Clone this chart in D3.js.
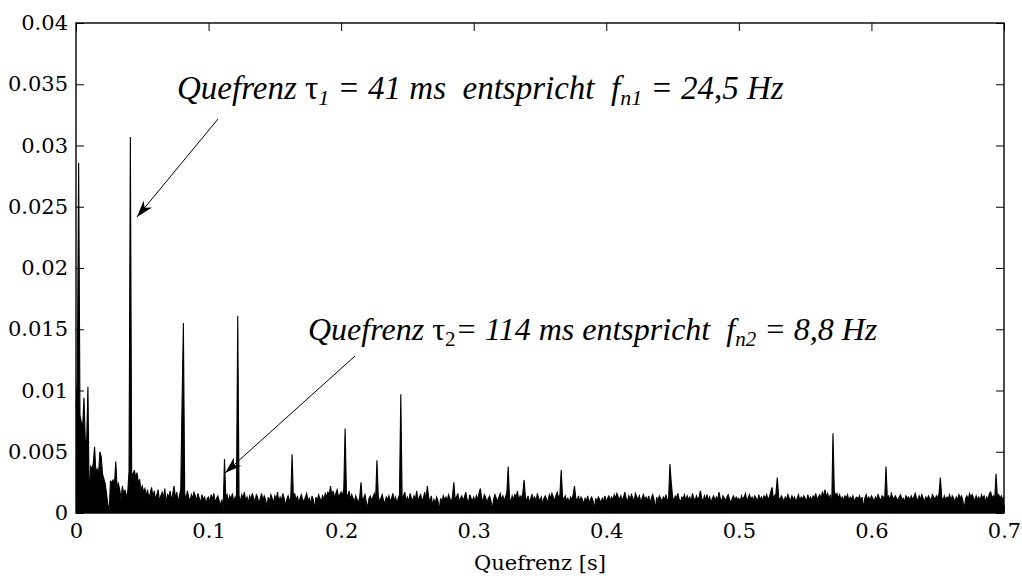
<!DOCTYPE html>
<meta charset="utf-8">
<title>Cepstrum - Quefrenz</title>
<style>
body { margin: 0; background: #fff; }
svg { display: block; }
.axis text, .label { font-family: "DejaVu Serif", serif; font-size: 21px; fill: #000; }
.axis line { stroke: #000; stroke-width: 1px; }
.note { font-family: "Liberation Serif", "Times New Roman", serif; font-style: italic; fill: #000; white-space: pre; }
</style>
<body>
<script src="https://d3js.org/d3.v7.min.js"></script>
<script>

var width = 1022,
    height = 576;

var margin = {left: 76, right: 18, top: 23, bottom: 63};

// one value per millisecond of quefrency, amplitude in units of 1e-4
var step = 0.001;

var ceps000 = [86,110,286,80,74,70,94,60,56,103,
  8,38,36,40,54,33,36,31,50,46, 32,28,24,16,7,2,26,25,27,23,
  42,21,24,19,11,22,15,19,13,17, 34,307,33,31,35,29,33,25,27,19,
  22,17,20,14,19,12,16,21,13,18, 11,15,19,9,14,17,12,20,8,15,
  13,18,10,16,22,12,17,9,14,19, 90,155,16,11,18,13,9,15,12,17,
  14,10,16,12,8,15,11,13,7,12];

var ceps100 = [13,9,15,11,16,8,12,14,10,6, 11,3,44,12,15,9,14,11,16,8,
  13,10,161,14,9,15,12,17,10,13, 8,14,11,16,12,9,15,13,7,12,
  16,10,14,11,5,13,9,15,12,8, 14,11,17,9,13,10,16,12,6,11,
  14,9,13,48,12,16,10,14,8,12, 15,11,9,13,16,10,12,7,14,11,
  3,13,10,15,12,9,14,11,16,13, 17,15,22,14,18,12,16,19,13,15];

var ceps200 = [17,14,20,69,16,13,18,11,15,12, 9,14,11,8,13,25,10,12,15,9,
  4,12,14,10,13,16,11,43,14,9, 12,15,10,8,13,11,14,9,12,16,
  10,13,8,12,15,97,11,14,17,10, 13,9,16,12,10,14,11,18,9,13,
  15,10,12,17,11,22,13,9,14,6, 11,8,13,10,2,12,9,14,11,13,
  10,15,12,8,14,25,11,13,16,9, 12,14,10,13,17,11,8,15,12,10];

var ceps300 = [13,9,14,11,16,20,12,10,15,13, 8,12,14,10,3,11,15,12,9,13,
  16,11,14,10,13,17,38,12,9,14, 11,15,13,18,10,14,12,16,27,13,
  10,14,8,12,15,11,13,9,16,12, 10,13,7,12,14,11,9,15,12,16,
  13,10,14,17,12,15,35,13,11,14, 10,12,8,13,11,15,22,12,10,14,
  9,13,11,7,12,10,14,8,11,13, 10,3,12,9,13,11,8,12,10,14];

var ceps400 = [9,12,14,10,13,11,15,12,16,13, 11,14,10,13,17,12,9,14,11,15,
  12,10,16,13,11,14,9,12,15,11, 13,10,14,8,12,15,11,3,13,10,
  14,12,9,13,11,15,10,12,40,25, 13,10,14,12,16,11,9,13,12,15,
  10,14,11,13,9,16,12,10,14,11, 13,18,12,9,14,11,15,10,13,8,
  12,14,10,13,11,17,12,9,14,12, 10,13,15,11,8,12,14,10,13,11];

var ceps500 = [12,9,14,11,13,16,10,12,15,11, 13,10,14,12,9,15,11,13,10,14,
  12,15,11,13,17,21,12,14,16,29, 13,10,14,12,9,13,11,15,12,10,
  14,11,13,9,12,15,10,13,11,14, 12,9,15,11,13,10,14,12,16,11,
  13,15,12,17,14,19,13,16,11,15, 3,65,18,14,16,12,15,11,13,10,
  14,12,15,10,13,11,14,9,12,13, 11,14,10,13,4,12,15,11,13,10];

var ceps600 = [14,12,9,13,11,15,12,10,14,13, 11,38,12,14,10,16,13,11,14,12,
  10,13,15,11,12,9,14,12,13,10, 14,11,13,16,12,10,14,11,15,12,
  9,13,11,14,12,10,15,13,11,14, 12,16,29,13,10,14,11,13,12,15,
  10,14,12,9,13,11,15,12,14,10, 3,12,14,11,16,13,15,12,10,14,
  11,13,10,15,12,14,9,13,11,16, 17,12,14,11,32,13,15,12,14,11,13];

var xTicks = [0, 0.1, 0.2, 0.3, 0.4, 0.5, 0.6, 0.7];
var yTicks = [0, 0.005, 0.01, 0.015, 0.02, 0.025, 0.03, 0.035, 0.04];

var xLabel = "Quefrenz [s]";

var data = [].concat(ceps000, ceps100, ceps200, ceps300, ceps400, ceps500, ceps600)
  .map(function(v, i) { return {q: i * step, a: v * 1e-4}; });

var svg = d3.select("body").append("svg")
    .attr("width", width)
    .attr("height", height);

var x = d3.scaleLinear().domain([0, 0.7]).range([margin.left, width - margin.right]);
var y = d3.scaleLinear().domain([0, 0.04]).range([height - margin.bottom, margin.top]);

var fmt = function(d) { return String(+d.toFixed(3)); };

// cepstrum trace
var area = d3.area()
    .x(function(d) { return x(d.q); })
    .y0(y(0))
    .y1(function(d) { return y(d.a); });

var line = d3.line()
    .x(function(d) { return x(d.q); })
    .y(function(d) { return y(d.a); });

svg.append("path").datum(data)
    .attr("d", area)
    .attr("fill", "#000");

svg.append("path").datum(data)
    .attr("d", line)
    .attr("fill", "none")
    .attr("stroke", "#000")
    .attr("stroke-width", 1.1);

// axes, ticks pointing inside
svg.append("g").attr("class", "axis")
    .attr("transform", "translate(0," + y(0) + ")")
    .call(d3.axisBottom(x).tickValues(xTicks).tickFormat(fmt).tickSize(-8).tickSizeOuter(0).tickPadding(10))
    .call(function(g) { g.select(".domain").remove(); });

svg.append("g").attr("class", "axis")
    .attr("transform", "translate(0," + y(0.04) + ")")
    .call(d3.axisTop(x).tickValues(xTicks).tickFormat("").tickSize(-8).tickSizeOuter(0))
    .call(function(g) { g.select(".domain").remove(); });

svg.append("g").attr("class", "axis")
    .attr("transform", "translate(" + x(0) + ",0)")
    .call(d3.axisLeft(y).tickValues(yTicks).tickFormat(fmt).tickSize(-8).tickSizeOuter(0).tickPadding(8))
    .call(function(g) { g.select(".domain").remove(); });

svg.append("g").attr("class", "axis")
    .attr("transform", "translate(" + x(0.7) + ",0)")
    .call(d3.axisRight(y).tickValues(yTicks).tickFormat("").tickSize(-8).tickSizeOuter(0))
    .call(function(g) { g.select(".domain").remove(); });

svg.selectAll(".axis").attr("font-family", null).attr("font-size", null);

svg.append("rect")
    .attr("x", x(0)).attr("y", y(0.04))
    .attr("width", x(0.7) - x(0)).attr("height", y(0) - y(0.04))
    .attr("fill", "none")
    .attr("stroke", "#000")
    .attr("stroke-width", 1.4);

svg.append("text").attr("class", "label")
    .attr("x", (x(0) + x(0.7)) / 2)
    .attr("y", 570)
    .attr("text-anchor", "middle")
    .text(xLabel);

// annotations
function note(qx, ay, size, parts) {
  var t = svg.append("text").attr("class", "note")
      .attr("font-size", size + "px")
      .attr("x", x(qx)).attr("y", y(ay));
  parts.forEach(function(p) {
    var s = t.append("tspan").text(p.t);
    if (p.sub) s.attr("font-size", Math.round(size * 0.66) + "px").attr("dy", 6);
    if (p.back) s.attr("dy", -6);
    if (p.up) s.attr("font-style", "normal");
  });
}

function arrow(q0, a0, q1, a1) {
  var x0 = x(q0), y0 = y(a0), x1 = x(q1), y1 = y(a1);
  var ang = Math.atan2(y1 - y0, x1 - x0) * 180 / Math.PI;
  svg.append("line")
      .attr("x1", x0).attr("y1", y0).attr("x2", x1).attr("y2", y1)
      .attr("stroke", "#000").attr("stroke-width", 1);
  svg.append("path")
      .attr("d", "M0,0L-17,-5.5L-12,0L-17,5.5Z")
      .attr("transform", "translate(" + x1 + "," + y1 + ") rotate(" + ang + ")")
      .attr("fill", "#000");
}

note(0.0762, 0.0338, 33, [
  {t: "Quefrenz "}, {t: "τ", up: true}, {t: "1", sub: true},
  {t: " = 41 ms  entspricht  f", back: true}, {t: "n1", sub: true},
  {t: " = 24,5 Hz", back: true}
]);
arrow(0.1071, 0.03216, 0.046, 0.02416);

note(0.175, 0.01412, 32, [
  {t: "Quefrenz "}, {t: "τ", up: true}, {t: "2", sub: true, up: true},
  {t: "= 114 ms entspricht  f", back: true}, {t: "n2", sub: true},
  {t: " = 8,8 Hz", back: true}
]);
arrow(0.2105, 0.01282, 0.1124, 0.00327);

</script>
</body>
</html>
